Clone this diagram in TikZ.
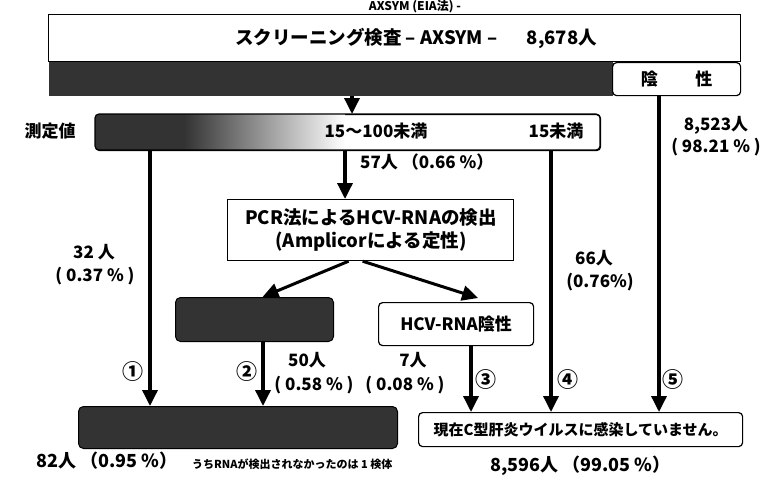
\documentclass[tikz,border=0pt]{standalone}
\usepackage{fontspec}
\setmainfont{Noto Sans CJK JP}
\usetikzlibrary{arrows.meta}
\begin{document}
\begin{tikzpicture}[x=1pt,y=-1pt,
  font=\bfseries\fontsize{17}{19}\selectfont,
  wbox/.style={draw, line width=1.2pt, fill=white, rounded corners=4pt, inner sep=0pt, anchor=north west},
  dbox/.style={draw, line width=1pt, fill=black!80, rounded corners=5pt, inner sep=0pt, anchor=north west},
  flow/.style={line width=3.5pt, -{Triangle[length=16pt,width=15pt]}},
  slant/.style={line width=3pt, -{Triangle[length=16pt,width=15pt]}},
  lbl/.style={inner sep=0pt},
  big/.style={inner sep=0pt, font=\bfseries\fontsize{18.5}{22}\selectfont},
  bigger/.style={inner sep=0pt, font=\bfseries\fontsize{18}{20}\selectfont},
  circ/.style={inner sep=0pt, font=\bfseries\fontsize{21}{22}\selectfont},
  small/.style={inner sep=0pt, font=\bfseries\fontsize{11}{12}\selectfont}]
\useasboundingbox (0,0) rectangle (776,479);
\clip (0,0) rectangle (776,479);
\fill[white] (0,0) rectangle (776,479);

% top
\node[lbl, font=\bfseries\fontsize{12}{13}\selectfont] (ttl) at (415,6.5) {AXSYM (EIA法) -};
\node[wbox, rounded corners=0pt, minimum width=692pt, minimum height=47pt] (top) at (48,14) {};
\node[big] (toptxt) at (416,38) {スクリーニング検査 – AXSYM –\hspace{1.6em}8,678人};
\node[dbox, rounded corners=0pt, draw=none, minimum width=564pt, minimum height=34pt] (band) at (48,61) {};
\node[wbox, minimum width=128pt, minimum height=33pt] (neg) at (612,62) {陰\hspace{2.2em}性};

% measurement
\node[lbl] (sokutei) at (50,131) {測定値};
\node[wbox, minimum width=505pt, minimum height=36pt] (meas) at (95,114) {};
\begin{scope}
  \clip[rounded corners=4pt] (95,114) rectangle (600,150);
  \fill[black!80] (95,114) rectangle (185,150);
  \shade[left color=black!80, right color=white] (184,114) rectangle (345,150);
\end{scope}
\draw[line width=1.2pt, rounded corners=4pt] (95,114) rectangle (600,150);
\node[lbl] (m1) at (376,131) {15～100未満};
\node[lbl] (m2) at (556,131) {15未満};

% PCR
\node[draw, line width=1.2pt, fill=white, inner sep=0pt, anchor=north west,
      minimum width=286pt, minimum height=61pt] (pcr) at (227,199) {};
\node[big, align=center] (pcrtxt) at (371,230) {PCR法によるHCV-RNAの検出\\[1pt](Amplicorによる定性)};

\node[dbox, minimum width=158pt, minimum height=44pt] (pos) at (175,297) {};
\node[wbox, minimum width=155pt, minimum height=43pt] (hneg) at (378,302) {HCV-RNA陰性};

\node[dbox, minimum width=319pt, minimum height=42pt] (res1) at (78,406) {};
\node[wbox, minimum width=324pt, minimum height=34pt, font=\bfseries\fontsize{15}{17}\selectfont] (res2) at (418,412) {現在C型肝炎ウイルスに感染していません。};

% coordinates for vertical lines
\coordinate (x0) at (352,0);
\coordinate (x1) at (150,0);
\coordinate (x2) at (263,0);
\coordinate (x3) at (471,0);
\coordinate (x4) at (551,0);
\coordinate (x5) at (659,0);
\coordinate (x57) at (345,0);

\draw[flow] (band.south -| x0) -- (meas.north -| x0);
\draw[flow] (meas.south -| x57) -- (pcr.north -| x57);
\draw[slant] ([xshift=-22pt]pcr.south) -- ([xshift=8pt]pos.north);
\draw[slant] ([xshift=-8pt]pcr.south) -- ([xshift=22pt,yshift=4pt]hneg.north);
\draw[flow] (meas.south -| x1) -- (res1.north -| x1);
\draw[flow] (pos.south -| x2) -- (res1.north -| x2);
\draw[flow] (hneg.south -| x3) -- (res2.north -| x3);
\draw[flow] (meas.south -| x4) -- (res2.north -| x4);
\draw[flow] (neg.south -| x5) -- (res2.north -| x5);

% labels
\node[lbl, anchor=west] (l57) at (360,162) {57人 （0.66 \%）};
\node[lbl] (l32a) at (94,252) {32 人};
\node[lbl] (l32b) at (95,276) {( 0.37 \% )};
\node[lbl] (l66a) at (594,258) {66人};
\node[lbl] (l66b) at (600,282) {(0.76\%)};
\node[lbl] (l85a) at (716,125) {8,523人};
\node[lbl] (l85b) at (716,147) {( 98.21 \% )};
\node[lbl] (l50a) at (307,360) {50人};
\node[lbl] (l50b) at (314,385) {( 0.58 \% )};
\node[lbl] (l7a) at (413,360) {7人};
\node[lbl] (l7b) at (405,385) {( 0.08 \% )};
\node[circ] (c1) at (133,372) {①};
\node[circ] (c2) at (247,372) {②};
\node[circ] (c3) at (486,380) {③};
\node[circ] (c4) at (568,380) {④};
\node[circ] (c5) at (673,380) {⑤};
\node[bigger, anchor=west] (l82) at (36,461) {82人 （0.95 \%）};
\node[small, anchor=west] (note) at (192,464) {うちRNAが検出されなかったのは 1 検体};
\node[bigger, anchor=west] (l86) at (490,466) {8,596人 （99.05 \%）};
\end{tikzpicture}
\end{document}
